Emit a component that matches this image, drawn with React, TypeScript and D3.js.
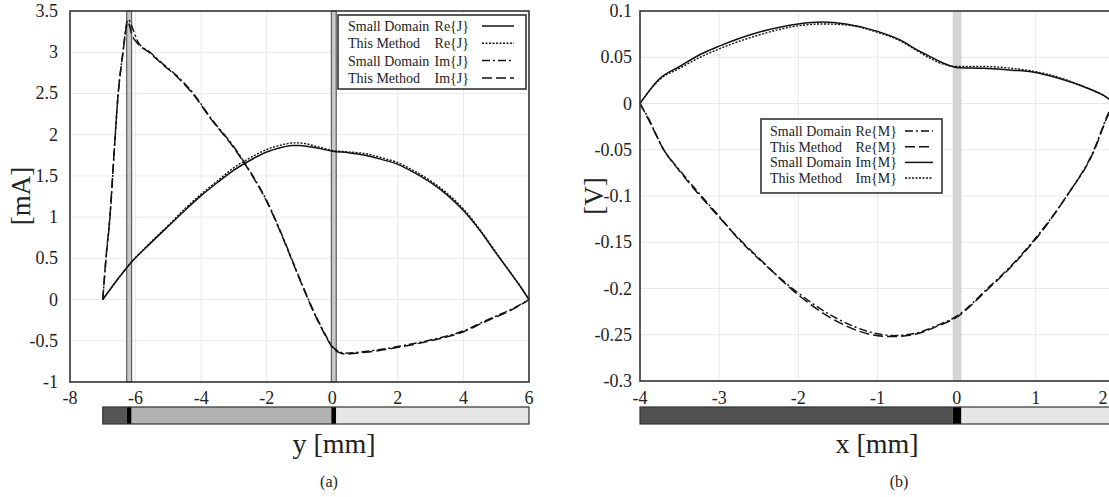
import React from "react";
import * as d3 from "d3";

// ---------- Panel (a) data ----------
const reJx = [-7.0, -6.5, -6.2, -5.5, -5, -4.5, -4, -3.5, -3, -2.5, -2, -1.5, -1.2, -1, -0.5, 0, 0.5, 1, 1.5, 2, 2.5, 3, 3.5, 4, 4.5, 5, 5.5, 5.7, 6];
const reJ_SD = [0, 0.27, 0.42, 0.7, 0.89, 1.08, 1.26, 1.42, 1.57, 1.69, 1.79, 1.85, 1.87, 1.87, 1.84, 1.8, 1.78, 1.75, 1.7, 1.64, 1.54, 1.42, 1.27, 1.08, 0.84, 0.56, 0.29, 0.18, 0];
const reJ_TM = [0, 0.27, 0.42, 0.71, 0.9, 1.1, 1.28, 1.44, 1.6, 1.72, 1.82, 1.88, 1.9, 1.9, 1.86, 1.81, 1.79, 1.77, 1.72, 1.66, 1.56, 1.44, 1.29, 1.1, 0.85, 0.57, 0.29, 0.18, 0];

const imJx = [-7.0, -6.9, -6.78, -6.65, -6.53, -6.4, -6.23, -6.1, -5.92, -5.56, -5.2, -4.73, -4.2, -3.72, -3, -2.5, -2, -1.5, -1, -0.5, -0.15, 0, 0.2, 0.4, 1, 1.56, 2, 3, 4, 4.6, 5, 5.5, 6];
const imJ_SD = [0, 0.5, 1.0, 1.8, 2.5, 2.95, 3.4, 3.3, 3.12, 3.0, 2.87, 2.71, 2.48, 2.21, 1.85, 1.55, 1.2, 0.75, 0.26, -0.2, -0.47, -0.57, -0.63, -0.65, -0.63, -0.6, -0.57, -0.49, -0.38, -0.27, -0.2, -0.11, 0];
const imJ_TM = [0, 0.52, 1.02, 1.82, 2.5, 2.95, 3.36, 3.2, 3.1, 2.99, 2.86, 2.7, 2.47, 2.2, 1.84, 1.54, 1.19, 0.74, 0.25, -0.21, -0.48, -0.58, -0.64, -0.66, -0.64, -0.61, -0.58, -0.5, -0.39, -0.28, -0.21, -0.12, 0];

const xTicksA = [-8, -6, -4, -2, 0, 2, 4, 6];
const yTicksA = [-1, -0.5, 0, 0.5, 1, 1.5, 2, 2.5, 3, 3.5];
const legendA = [
  { name: "Small Domain", comp: "Re{J}", dash: "none" },
  { name: "This Method", comp: "Re{J}", dash: "2,1.5" },
  { name: "Small Domain", comp: "Im{J}", dash: "8,3,2,3" },
  { name: "This Method", comp: "Im{J}", dash: "10,4" },
];

// ---------- Panel (b) data ----------
const imMx = [-4, -3.75, -3.5, -3.24, -3, -2.5, -2, -1.7, -1.4, -1, -0.72, -0.5, -0.34, -0.15, 0, 0.33, 0.7, 0.96, 1.3, 1.64, 1.85, 2];
const imM_SD = [0, 0.027, 0.04, 0.053, 0.062, 0.077, 0.086, 0.088, 0.086, 0.078, 0.069, 0.058, 0.051, 0.043, 0.039, 0.038, 0.036, 0.034, 0.027, 0.017, 0.009, 0.0];
const imM_TM = [0, 0.026, 0.038, 0.05, 0.059, 0.074, 0.084, 0.086, 0.085, 0.077, 0.068, 0.057, 0.049, 0.042, 0.04, 0.04, 0.038, 0.035, 0.028, 0.017, 0.009, 0.0];

const reMx = [-4, -3.9, -3.7, -3.5, -3, -2.74, -2.5, -2, -1.5, -1, -0.8, -0.5, -0.25, 0, 0.39, 0.67, 1.05, 1.39, 1.72, 1.92, 2];
const reM_SD = [0, -0.015, -0.05, -0.072, -0.122, -0.148, -0.168, -0.205, -0.233, -0.249, -0.251, -0.248, -0.24, -0.23, -0.2, -0.177, -0.14, -0.1, -0.053, -0.01, 0.003];
const reM_TM = [0, -0.016, -0.05, -0.073, -0.123, -0.147, -0.167, -0.207, -0.236, -0.251, -0.252, -0.249, -0.241, -0.231, -0.201, -0.178, -0.141, -0.1, -0.054, -0.011, 0.003];

const xTicksB = [-4, -3, -2, -1, 0, 1, 2];
const yTicksB = [-0.3, -0.25, -0.2, -0.15, -0.1, -0.05, 0, 0.05, 0.1];
const legendB = [
  { name: "Small Domain", comp: "Re{M}", dash: "8,3,2,3" },
  { name: "This Method", comp: "Re{M}", dash: "10,4" },
  { name: "Small Domain", comp: "Im{M}", dash: "none" },
  { name: "This Method", comp: "Im{M}", dash: "2,1.5" },
];

const FONT = '"Liberation Serif", "DejaVu Serif", serif';

function makeLine(x: d3.ScaleLinear<number, number>, y: d3.ScaleLinear<number, number>, xs: number[], ys: number[]) {
  const pts: [number, number][] = xs.map((v, i) => [v, ys[i]]);
  return d3
    .line<[number, number]>()
    .x((d) => x(d[0]))
    .y((d) => y(d[1]))
    .curve(d3.curveMonotoneX)(pts) as string;
}

function fmt(v: number) {
  return String(+v.toFixed(2));
}

export default function App() {
  const xA = d3.scaleLinear().domain([-8, 6]).range([70, 529]);
  const yA = d3.scaleLinear().domain([-1, 3.5]).range([382, 11]);
  const xB = d3.scaleLinear().domain([-4, 2]).range([640, 1115]);
  const yB = d3.scaleLinear().domain([-0.3, 0.1]).range([381, 11]);

  const gridColor = "#e8e8e8";
  const axisColor = "#333";
  const txt = "#222";

  const barY = 407;
  const barH = 17;

  return (
    <svg
      width={1109}
      height={497}
      style={{ position: "absolute", left: 0, top: 0, background: "#fff", fontFamily: FONT }}
    >
      <rect x={0} y={0} width={1109} height={497} fill="#fff" />
      {/* ================= Panel (a) ================= */}
      <g>
        {xTicksA.slice(1, -1).map((t) => (
          <line key={"gxa" + t} x1={xA(t)} x2={xA(t)} y1={yA(3.5)} y2={yA(-1)} stroke={gridColor} />
        ))}
        {yTicksA.slice(1, -1).map((t) => (
          <line key={"gya" + t} x1={xA(-8)} x2={xA(6)} y1={yA(t)} y2={yA(t)} stroke={gridColor} />
        ))}
        <rect x={xA(-6.27)} y={yA(3.5)} width={xA(-6.12) - xA(-6.27)} height={yA(-1) - yA(3.5)} fill="#c8c8c8" stroke="#444" strokeWidth={1} />
        <rect x={xA(-0.03)} y={yA(3.5)} width={xA(0.12) - xA(-0.03)} height={yA(-1) - yA(3.5)} fill="#c8c8c8" stroke="#444" strokeWidth={1} />

        <path d={makeLine(xA, yA, reJx, reJ_SD)} fill="none" stroke="#111" strokeWidth={1.5} />
        <path d={makeLine(xA, yA, reJx, reJ_TM)} fill="none" stroke="#111" strokeWidth={1.4} strokeDasharray="2,1.5" />
        <path d={makeLine(xA, yA, imJx, imJ_SD)} fill="none" stroke="#111" strokeWidth={1.5} strokeDasharray="8,3,2,3" />
        <path d={makeLine(xA, yA, imJx, imJ_TM)} fill="none" stroke="#111" strokeWidth={1.5} strokeDasharray="10,4" />

        <rect x={xA(-8)} y={yA(3.5)} width={xA(6) - xA(-8)} height={yA(-1) - yA(3.5)} fill="none" stroke={axisColor} strokeWidth={1.6} />

        {xTicksA.map((t) => (
          <text key={"txa" + t} x={xA(t)} y={404} fontSize={18} textAnchor="middle" fill={txt}>
            {fmt(t)}
          </text>
        ))}
        {yTicksA.map((t) => (
          <text key={"tya" + t} x={58} y={yA(t) + 6} fontSize={18} textAnchor="end" fill={txt}>
            {fmt(t)}
          </text>
        ))}

        <rect x={338} y={15} width={188} height={74} fill="#fff" stroke={axisColor} strokeWidth={1.6} />
        {legendA.map((l, i) => {
          const cy = 26 + i * 17.3;
          return (
            <g key={"la" + i}>
              <text x={348} y={cy + 5} fontSize={14} fill={txt}>{l.name}</text>
              <text x={469} y={cy + 5} fontSize={14} textAnchor="end" fill={txt}>{l.comp}</text>
              <line x1={482} x2={514} y1={cy} y2={cy} stroke="#111" strokeWidth={1.5} strokeDasharray={l.dash} />
            </g>
          );
        })}

        <rect x={xA(-7)} y={barY} width={xA(-6.27) - xA(-7)} height={barH} fill="#555" />
        <rect x={xA(-6.27)} y={barY} width={xA(-6.12) - xA(-6.27)} height={barH} fill="#000" />
        <rect x={xA(-6.12)} y={barY} width={xA(-0.03) - xA(-6.12)} height={barH} fill="#b2b2b2" />
        <rect x={xA(-0.03)} y={barY} width={xA(0.12) - xA(-0.03)} height={barH} fill="#000" />
        <rect x={xA(0.12)} y={barY} width={xA(6) - xA(0.12)} height={barH} fill="#e6e6e6" />
        <rect x={xA(-7)} y={barY} width={xA(6) - xA(-7)} height={barH} fill="none" stroke="#333" strokeWidth={1.2} />

        <text x={334} y={453} fontSize={28} textAnchor="middle" fill={txt}>y [mm]</text>
        <text x={329} y={487} fontSize={16} textAnchor="middle" fill={txt}>(a)</text>
        <text transform={`translate(30,196) rotate(-90)`} fontSize={27} textAnchor="middle" fill={txt}>[mA]</text>
      </g>

      {/* ================= Panel (b) ================= */}
      <g>
        {xTicksB.slice(1).map((t) => (
          <line key={"gxb" + t} x1={xB(t)} x2={xB(t)} y1={yB(0.1)} y2={yB(-0.3)} stroke={gridColor} />
        ))}
        {yTicksB.slice(1, -1).map((t) => (
          <line key={"gyb" + t} x1={xB(-4)} x2={xB(2)} y1={yB(t)} y2={yB(t)} stroke={gridColor} />
        ))}
        <rect x={xB(-0.05)} y={yB(0.1)} width={xB(0.06) - xB(-0.05)} height={yB(-0.3) - yB(0.1)} fill="#d4d4d4" />

        <path d={makeLine(xB, yB, reMx, reM_SD)} fill="none" stroke="#111" strokeWidth={1.5} strokeDasharray="8,3,2,3" />
        <path d={makeLine(xB, yB, reMx, reM_TM)} fill="none" stroke="#111" strokeWidth={1.5} strokeDasharray="10,4" />
        <path d={makeLine(xB, yB, imMx, imM_SD)} fill="none" stroke="#111" strokeWidth={1.5} />
        <path d={makeLine(xB, yB, imMx, imM_TM)} fill="none" stroke="#111" strokeWidth={1.4} strokeDasharray="2,1.5" />

        <rect x={xB(-4)} y={yB(0.1)} width={xB(2) - xB(-4)} height={yB(-0.3) - yB(0.1)} fill="none" stroke={axisColor} strokeWidth={1.6} />

        {xTicksB.map((t) => (
          <text key={"txb" + t} x={Math.min(xB(t), 1103)} y={404} fontSize={18} textAnchor="middle" fill={txt}>
            {fmt(t)}
          </text>
        ))}
        {yTicksB.map((t) => (
          <text key={"tyb" + t} x={632} y={yB(t) + 6} fontSize={18} textAnchor="end" fill={txt}>
            {fmt(t)}
          </text>
        ))}

        <rect x={761} y={119} width={181} height={74} fill="#fff" stroke={axisColor} strokeWidth={1.6} />
        {legendB.map((l, i) => {
          const cy = 131 + i * 15.7;
          return (
            <g key={"lb" + i}>
              <text x={770} y={cy + 5} fontSize={14} fill={txt}>{l.name}</text>
              <text x={897} y={cy + 5} fontSize={14} textAnchor="end" fill={txt}>{l.comp}</text>
              <line x1={905} x2={933} y1={cy} y2={cy} stroke="#111" strokeWidth={1.5} strokeDasharray={l.dash} />
            </g>
          );
        })}

        <rect x={xB(-4)} y={barY} width={xB(-0.05) - xB(-4)} height={barH} fill="#505050" />
        <rect x={xB(-0.05)} y={barY} width={xB(0.06) - xB(-0.05)} height={barH} fill="#000" />
        <rect x={xB(0.06)} y={barY} width={xB(2) - xB(0.06)} height={barH} fill="#e6e6e6" />
        <rect x={xB(-4)} y={barY} width={xB(2) - xB(-4)} height={barH} fill="none" stroke="#333" strokeWidth={1.2} />

        <text x={877} y={453} fontSize={28} textAnchor="middle" fill={txt}>x [mm]</text>
        <text x={899} y={487} fontSize={16} textAnchor="middle" fill={txt}>(b)</text>
        <text transform={`translate(603,196) rotate(-90)`} fontSize={27} textAnchor="middle" fill={txt}>[V]</text>
      </g>
    </svg>
  );
}
